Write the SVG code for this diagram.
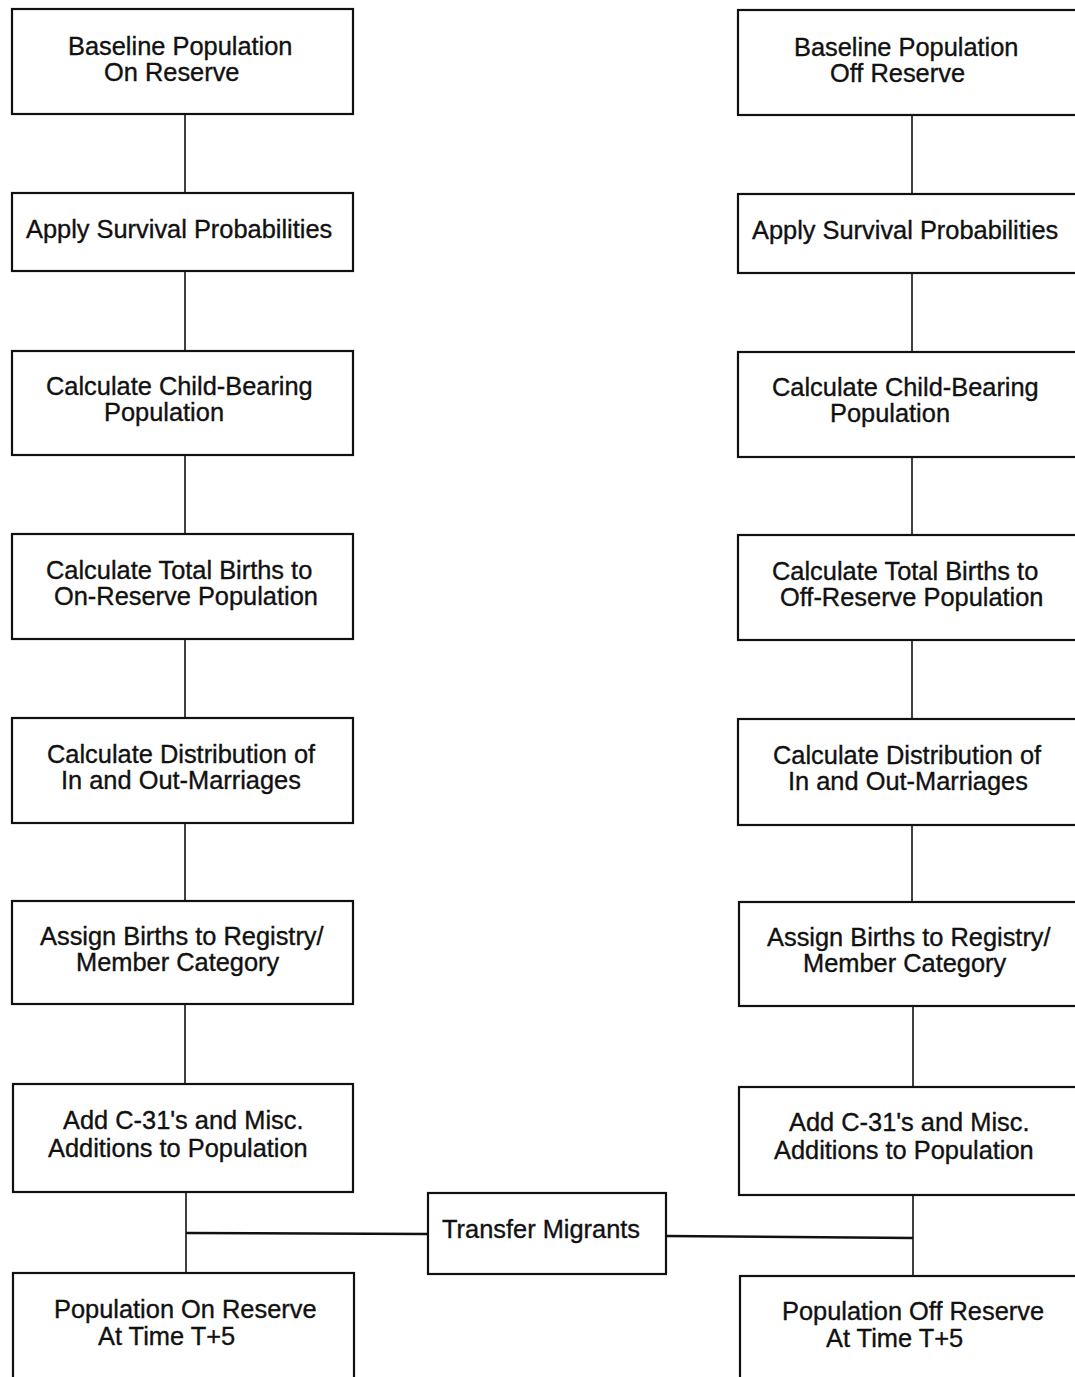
<svg xmlns="http://www.w3.org/2000/svg" width="1075" height="1377" viewBox="0 0 1075 1377">
<style>
.box{fill:#fff;stroke:#111;stroke-width:2.2}
.t{font-family:"Liberation Sans",Arial,sans-serif;font-size:25.4px;fill:#111;stroke:#111;stroke-width:0.35}
.c{stroke:#111;stroke-width:1.6;fill:none}
.h{stroke:#111;stroke-width:2.4;fill:none}
</style>
<rect width="1075" height="1377" fill="#fff"/>
<g id="connectors">
<line class="c" x1="185" y1="114" x2="185" y2="193"/>
<line class="c" x1="185" y1="271" x2="185" y2="351"/>
<line class="c" x1="185" y1="455" x2="185" y2="534"/>
<line class="c" x1="185" y1="639" x2="185" y2="718"/>
<line class="c" x1="185" y1="823" x2="185" y2="901"/>
<line class="c" x1="185" y1="1004" x2="185" y2="1084"/>
<line class="c" x1="186" y1="1192" x2="186" y2="1273"/>
<line class="c" x1="912" y1="115" x2="912" y2="194"/>
<line class="c" x1="912" y1="273" x2="912" y2="352"/>
<line class="c" x1="912" y1="457" x2="912" y2="535"/>
<line class="c" x1="912" y1="640" x2="912" y2="719"/>
<line class="c" x1="912" y1="825" x2="912" y2="902"/>
<line class="c" x1="913" y1="1006" x2="913" y2="1087"/>
<line class="c" x1="913" y1="1195" x2="913" y2="1276"/>
<line class="h" x1="186" y1="1233" x2="428" y2="1234"/>
<line class="h" x1="666" y1="1236" x2="913" y2="1238"/>
</g>
<g id="on1"><rect class="box" x="12" y="9" width="341" height="105"/><text class="t" x="68" y="55">Baseline Population</text><text class="t" x="104" y="81">On Reserve</text></g>
<g id="on2"><rect class="box" x="12" y="193" width="341" height="78"/><text class="t" x="26" y="238">Apply Survival Probabilities</text></g>
<g id="on3"><rect class="box" x="12" y="351" width="341" height="104"/><text class="t" x="46" y="395">Calculate Child-Bearing</text><text class="t" x="104" y="421">Population</text></g>
<g id="on4"><rect class="box" x="12" y="534" width="341" height="105"/><text class="t" x="46" y="579">Calculate Total Births to</text><text class="t" x="54" y="605">On-Reserve Population</text></g>
<g id="on5"><rect class="box" x="12" y="718" width="341" height="105"/><text class="t" x="47" y="763">Calculate Distribution of</text><text class="t" x="61" y="789">In and Out-Marriages</text></g>
<g id="on6"><rect class="box" x="12" y="901" width="341" height="103"/><text class="t" x="40" y="945">Assign Births to Registry/</text><text class="t" x="76" y="971">Member Category</text></g>
<g id="on7"><rect class="box" x="13" y="1084" width="340" height="108"/><text class="t" x="63" y="1129">Add C-31's and Misc.</text><text class="t" x="48" y="1157">Additions to Population</text></g>
<g id="on8"><rect class="box" x="13" y="1273" width="341" height="110"/><text class="t" x="54" y="1318">Population On Reserve</text><text class="t" x="98" y="1345">At Time T+5</text></g>
<g id="off1"><rect class="box" x="738" y="10" width="345" height="105"/><text class="t" x="794" y="56">Baseline Population</text><text class="t" x="830" y="82">Off Reserve</text></g>
<g id="off2"><rect class="box" x="738" y="194" width="345" height="79"/><text class="t" x="752" y="239">Apply Survival Probabilities</text></g>
<g id="off3"><rect class="box" x="738" y="352" width="345" height="105"/><text class="t" x="772" y="396">Calculate Child-Bearing</text><text class="t" x="830" y="422">Population</text></g>
<g id="off4"><rect class="box" x="738" y="535" width="345" height="105"/><text class="t" x="772" y="580">Calculate Total Births to</text><text class="t" x="780" y="606">Off-Reserve Population</text></g>
<g id="off5"><rect class="box" x="738" y="719" width="345" height="106"/><text class="t" x="773" y="764">Calculate Distribution of</text><text class="t" x="788" y="790">In and Out-Marriages</text></g>
<g id="off6"><rect class="box" x="739" y="902" width="344" height="104"/><text class="t" x="767" y="946">Assign Births to Registry/</text><text class="t" x="803" y="972">Member Category</text></g>
<g id="off7"><rect class="box" x="739" y="1087" width="344" height="108"/><text class="t" x="789" y="1131">Add C-31's and Misc.</text><text class="t" x="774" y="1159">Additions to Population</text></g>
<g id="off8"><rect class="box" x="740" y="1276" width="343" height="110"/><text class="t" x="782" y="1320">Population Off Reserve</text><text class="t" x="826" y="1347">At Time T+5</text></g>
<g id="transfer"><rect class="box" x="428" y="1193" width="238" height="81"/><text class="t" x="442" y="1238">Transfer Migrants</text></g>
</svg>
